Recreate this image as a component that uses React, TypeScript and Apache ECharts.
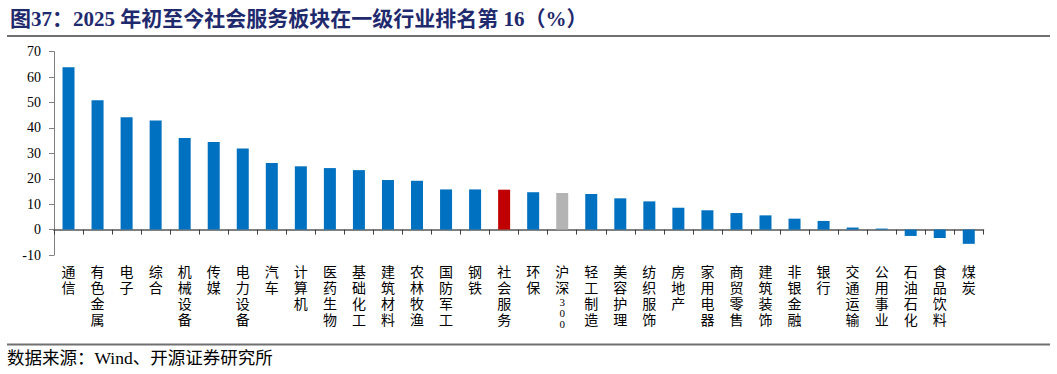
import React, { useEffect, useRef } from "react";
import * as echarts from "echarts";

const categories = [
  "通信", "有色金属", "电子", "综合", "机械设备", "传媒", "电力设备", "汽车",
  "计算机", "医药生物", "基础化工", "建筑材料", "农林牧渔", "国防军工", "钢铁", "社会服务",
  "环保", "沪深300", "轻工制造", "美容护理", "纺织服饰", "房地产", "家用电器", "商贸零售",
  "建筑装饰", "非银金融", "银行", "交通运输", "公用事业", "石油石化", "食品饮料", "煤炭",
];
const values = [
  63.9, 50.9, 44.2, 42.9, 36.0, 34.5, 31.9, 26.2,
  24.9, 24.2, 23.4, 19.5, 19.2, 15.8, 15.8, 15.7,
  14.7, 14.4, 14.0, 12.3, 11.1, 8.6, 7.6, 6.5,
  5.6, 4.3, 3.4, 0.8, 0.4, -2.5, -3.3, -5.6,
];
const highlightName = "社会服务";
const benchmarkName = "沪深300";
const yTicks = { min: -10, max: 70, interval: 10 };
const titleText = "图37：2025 年初至今社会服务板块在一级行业排名第 16（%）";
const sourceText = "数据来源：Wind、开源证券研究所";

const BLUE = "#0070C0";
const RED = "#C00000";
const GRAY = "#B4B4B4";
const FONT = '"Liberation Serif", "Times New Roman", "Noto Sans CJK SC", serif';

function formatLabel(name: string): string {
  const m = name.match(/^(\D*)(\d+)$/);
  if (m) {
    const chars = m[1].split("").map((c) => `{c|${c}}`);
    const digits = m[2].split("").map((d) => `{d|${d}}`);
    return [...chars, ...digits].join("\n");
  }
  return name.split("").map((c) => `{c|${c}}`).join("\n");
}

export default function App() {
  const ref = useRef<HTMLDivElement>(null);
  useEffect(() => {
    if (!ref.current) return;
    const chart = echarts.init(ref.current, null, { renderer: "svg" });
    const data = values.map((v, i) => ({
      value: v,
      itemStyle: {
        color:
          categories[i] === highlightName ? RED : categories[i] === benchmarkName ? GRAY : BLUE,
      },
    }));
    chart.setOption({
      animation: false,
      textStyle: { fontFamily: FONT },
      title: {
        text: titleText,
        left: 5,
        top: 3,
        textStyle: { fontFamily: FONT, fontSize: 21, fontWeight: "bold", color: "#1F2A6E" },
      },
      grid: { left: 54, right: 73.7, top: 51.7, bottom: 119, containLabel: false },
      xAxis: {
        type: "category",
        data: categories,
        axisLine: { onZero: true, lineStyle: { color: "#808080", width: 2 } },
        axisTick: { show: true, alignWithLabel: false, length: 5, lineStyle: { color: "#404040", width: 1 } },
        axisLabel: {
          interval: 0,
          margin: 9,
          color: "#000",
          formatter: (v: string) => formatLabel(v),
          rich: {
            c: { fontSize: 14, lineHeight: 16, fontFamily: FONT, color: "#000" },
            d: { fontSize: 11, lineHeight: 11, fontFamily: FONT, color: "#000" },
          },
        },
      },
      yAxis: {
        type: "value",
        min: yTicks.min,
        max: yTicks.max,
        interval: yTicks.interval,
        splitLine: { show: false },
        axisLine: { show: true, lineStyle: { color: "#808080", width: 1 } },
        axisTick: { show: true, length: 5, lineStyle: { color: "#808080" } },
        axisLabel: { fontSize: 14, color: "#000", margin: 13, fontFamily: FONT },
      },
      series: [
        {
          type: "bar",
          data,
          barWidth: 12,
        },
      ],
      graphic: [
        {
          type: "text",
          x: 7,
          y: 349,
          style: { text: sourceText, fontSize: 17.5, fontFamily: FONT, fill: "#000" },
        },
        { type: "rect", id: "bottomRule", z: 100, left: 7, top: 343.5, shape: { width: 1043, height: 2 }, style: { fill: "#707070" } },
        { type: "rect", id: "topRule", z: 100, left: 7, top: 35, shape: { width: 1043, height: 2 }, style: { fill: "#707070" } },
      ],
    });
    return () => chart.dispose();
  }, []);
  return (
    <div style={{ position: "absolute", left: 0, top: 0, width: 1057, height: 374, background: "#fff" }}>
      <div ref={ref} style={{ position: "absolute", left: 0, top: 0, width: 1057, height: 374 }} />
      <div
        style={{
          position: "absolute",
          left: 7,
          top: 35,
          width: 1043,
          height: 2,
          background: "#707070",
          pointerEvents: "none",
        }}
      />
    </div>
  );
}
